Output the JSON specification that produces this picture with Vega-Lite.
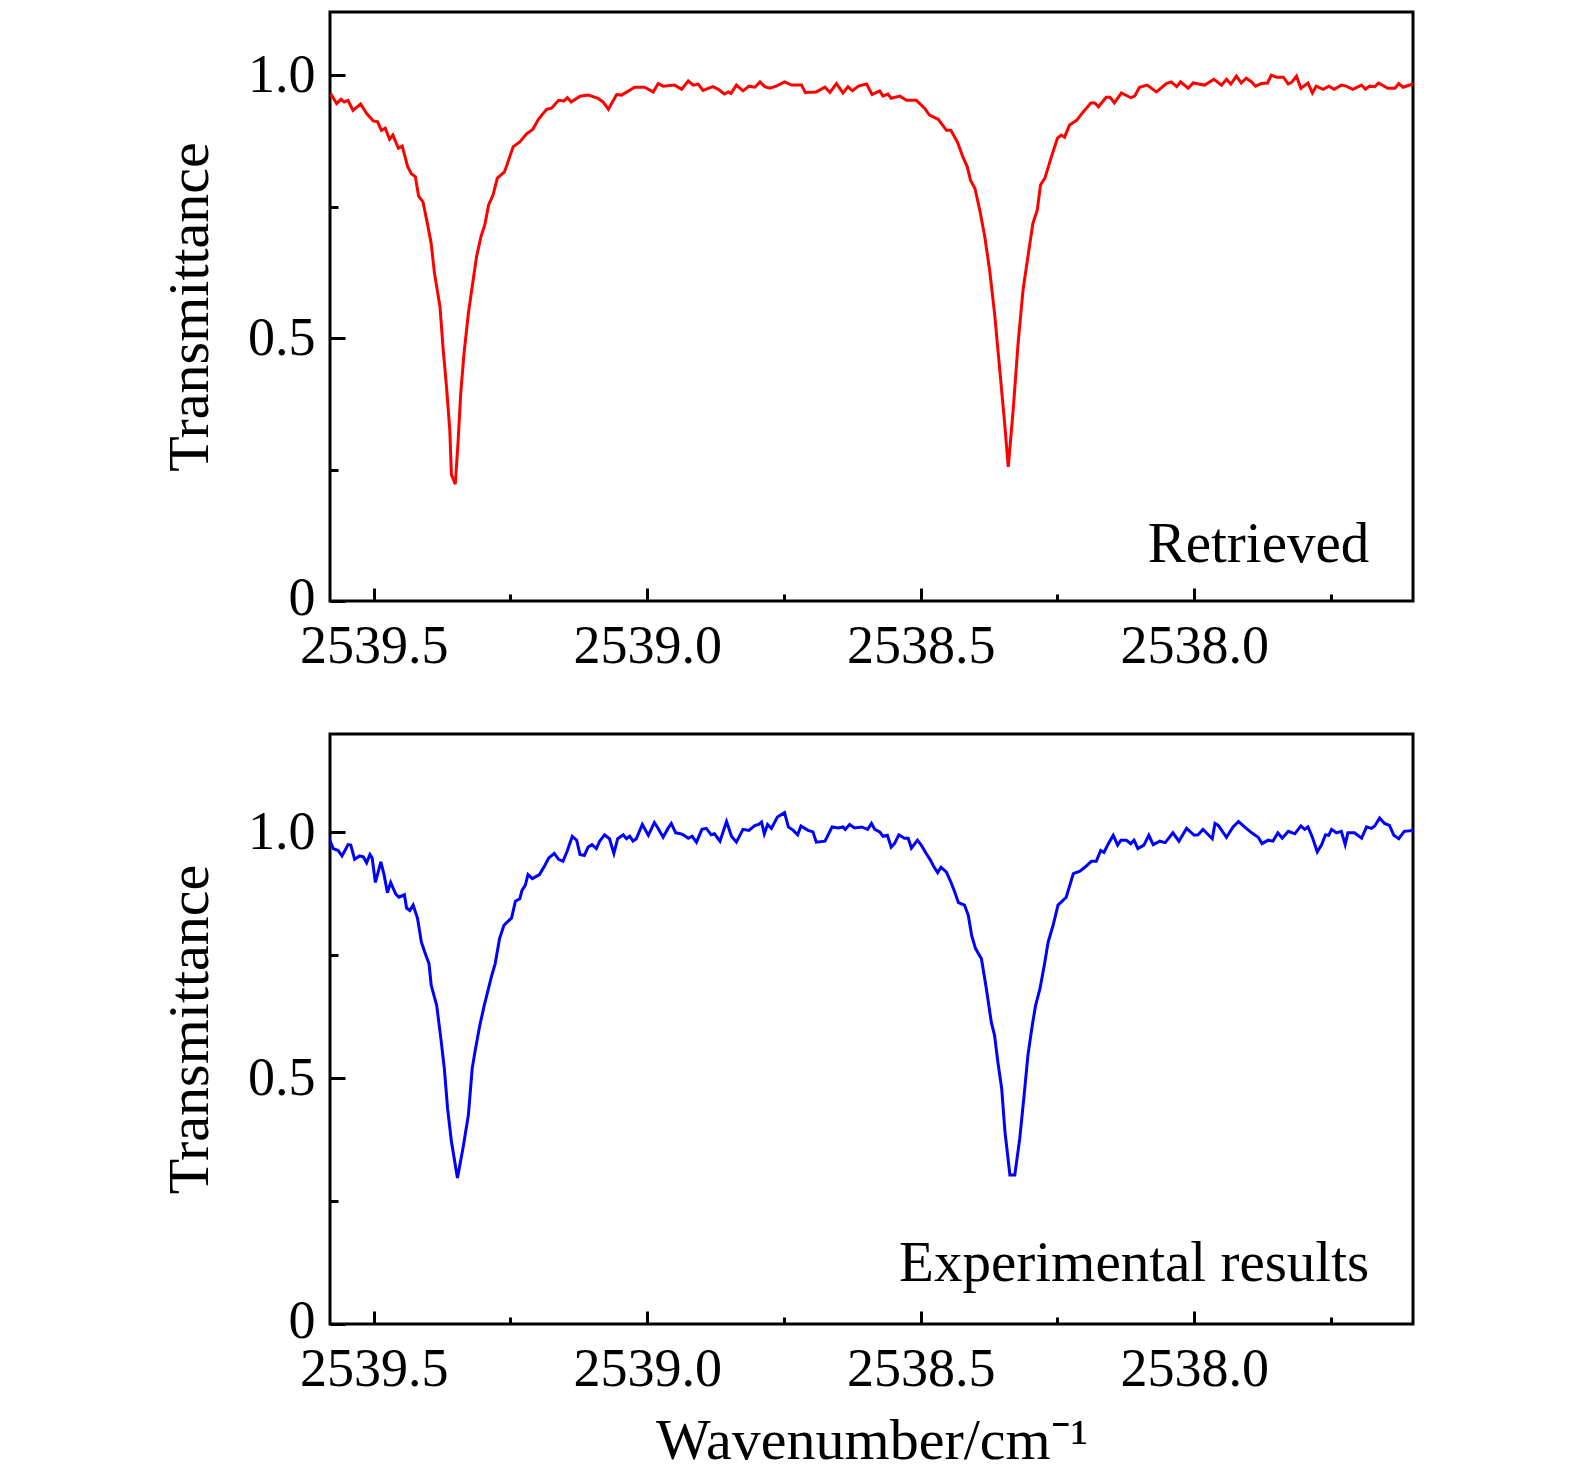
{
  "$schema": "https://vega.github.io/schema/vega-lite/v6.json",
  "padding": {"left": 160, "top": 10, "right": 5, "bottom": 5},
  "background": "white",
  "config": {
    "font": "Liberation Serif",
    "view": {"stroke": "black", "strokeWidth": 3},
    "axis": {
      "domain": false,
      "grid": false,
      "labelFont": "Liberation Serif",
      "labelFontSize": 54,
      "labelColor": "black",
      "titleFont": "Liberation Serif",
      "titleFontSize": 58,
      "titleFontWeight": "normal",
      "titleColor": "black",
      "tickColor": "black",
      "tickWidth": 3
    }
  },
  "datasets": {
    "retrieved": [
      {"wn": 2539.585, "T": 0.958}, {"wn": 2539.577, "T": 0.962}, {"wn": 2539.568, "T": 0.946}, {"wn": 2539.56, "T": 0.954},
      {"wn": 2539.554, "T": 0.949}, {"wn": 2539.547, "T": 0.952}, {"wn": 2539.538, "T": 0.933}, {"wn": 2539.524, "T": 0.945},
      {"wn": 2539.513, "T": 0.927}, {"wn": 2539.501, "T": 0.913}, {"wn": 2539.493, "T": 0.911}, {"wn": 2539.486, "T": 0.895},
      {"wn": 2539.479, "T": 0.899}, {"wn": 2539.471, "T": 0.878}, {"wn": 2539.465, "T": 0.886}, {"wn": 2539.455, "T": 0.861},
      {"wn": 2539.448, "T": 0.865}, {"wn": 2539.438, "T": 0.826}, {"wn": 2539.431, "T": 0.812}, {"wn": 2539.424, "T": 0.807},
      {"wn": 2539.418, "T": 0.77}, {"wn": 2539.41, "T": 0.759}, {"wn": 2539.402, "T": 0.718}, {"wn": 2539.395, "T": 0.68},
      {"wn": 2539.389, "T": 0.623}, {"wn": 2539.379, "T": 0.56}, {"wn": 2539.373, "T": 0.477}, {"wn": 2539.367, "T": 0.407},
      {"wn": 2539.361, "T": 0.325}, {"wn": 2539.358, "T": 0.24}, {"wn": 2539.354, "T": 0.23}, {"wn": 2539.351, "T": 0.222},
      {"wn": 2539.346, "T": 0.3}, {"wn": 2539.341, "T": 0.395}, {"wn": 2539.335, "T": 0.471}, {"wn": 2539.327, "T": 0.547},
      {"wn": 2539.32, "T": 0.598}, {"wn": 2539.312, "T": 0.655}, {"wn": 2539.304, "T": 0.693}, {"wn": 2539.297, "T": 0.715},
      {"wn": 2539.29, "T": 0.753}, {"wn": 2539.282, "T": 0.772}, {"wn": 2539.274, "T": 0.804}, {"wn": 2539.261, "T": 0.816},
      {"wn": 2539.245, "T": 0.864}, {"wn": 2539.233, "T": 0.873}, {"wn": 2539.221, "T": 0.888}, {"wn": 2539.209, "T": 0.897},
      {"wn": 2539.199, "T": 0.916}, {"wn": 2539.184, "T": 0.935}, {"wn": 2539.175, "T": 0.937}, {"wn": 2539.162, "T": 0.952},
      {"wn": 2539.152, "T": 0.951}, {"wn": 2539.146, "T": 0.957}, {"wn": 2539.139, "T": 0.949}, {"wn": 2539.123, "T": 0.96},
      {"wn": 2539.108, "T": 0.962}, {"wn": 2539.09, "T": 0.956}, {"wn": 2539.081, "T": 0.949}, {"wn": 2539.071, "T": 0.935},
      {"wn": 2539.056, "T": 0.963}, {"wn": 2539.047, "T": 0.962}, {"wn": 2539.023, "T": 0.977}, {"wn": 2539.005, "T": 0.977},
      {"wn": 2538.989, "T": 0.968}, {"wn": 2538.98, "T": 0.984}, {"wn": 2538.971, "T": 0.979}, {"wn": 2538.95, "T": 0.981},
      {"wn": 2538.937, "T": 0.973}, {"wn": 2538.925, "T": 0.989}, {"wn": 2538.916, "T": 0.981}, {"wn": 2538.907, "T": 0.983},
      {"wn": 2538.898, "T": 0.971}, {"wn": 2538.88, "T": 0.978}, {"wn": 2538.87, "T": 0.973}, {"wn": 2538.859, "T": 0.964},
      {"wn": 2538.852, "T": 0.968}, {"wn": 2538.847, "T": 0.965}, {"wn": 2538.837, "T": 0.981}, {"wn": 2538.825, "T": 0.97},
      {"wn": 2538.814, "T": 0.979}, {"wn": 2538.803, "T": 0.977}, {"wn": 2538.794, "T": 0.987}, {"wn": 2538.785, "T": 0.978},
      {"wn": 2538.776, "T": 0.975}, {"wn": 2538.764, "T": 0.979}, {"wn": 2538.749, "T": 0.987}, {"wn": 2538.736, "T": 0.981},
      {"wn": 2538.718, "T": 0.981}, {"wn": 2538.711, "T": 0.967}, {"wn": 2538.691, "T": 0.968}, {"wn": 2538.675, "T": 0.977},
      {"wn": 2538.666, "T": 0.967}, {"wn": 2538.654, "T": 0.984}, {"wn": 2538.642, "T": 0.966}, {"wn": 2538.633, "T": 0.978},
      {"wn": 2538.625, "T": 0.97}, {"wn": 2538.614, "T": 0.979}, {"wn": 2538.599, "T": 0.983}, {"wn": 2538.589, "T": 0.963},
      {"wn": 2538.575, "T": 0.97}, {"wn": 2538.569, "T": 0.96}, {"wn": 2538.56, "T": 0.964}, {"wn": 2538.554, "T": 0.956},
      {"wn": 2538.538, "T": 0.96}, {"wn": 2538.526, "T": 0.952}, {"wn": 2538.508, "T": 0.952}, {"wn": 2538.493, "T": 0.937},
      {"wn": 2538.484, "T": 0.924}, {"wn": 2538.468, "T": 0.916}, {"wn": 2538.453, "T": 0.895}, {"wn": 2538.445, "T": 0.895},
      {"wn": 2538.433, "T": 0.873}, {"wn": 2538.422, "T": 0.842}, {"wn": 2538.415, "T": 0.826}, {"wn": 2538.409, "T": 0.8},
      {"wn": 2538.401, "T": 0.785}, {"wn": 2538.392, "T": 0.743}, {"wn": 2538.383, "T": 0.693}, {"wn": 2538.374, "T": 0.629},
      {"wn": 2538.365, "T": 0.547}, {"wn": 2538.356, "T": 0.445}, {"wn": 2538.346, "T": 0.331}, {"wn": 2538.34, "T": 0.255},
      {"wn": 2538.331, "T": 0.363}, {"wn": 2538.322, "T": 0.49}, {"wn": 2538.313, "T": 0.591}, {"wn": 2538.304, "T": 0.655},
      {"wn": 2538.295, "T": 0.718}, {"wn": 2538.287, "T": 0.743}, {"wn": 2538.281, "T": 0.791}, {"wn": 2538.273, "T": 0.804},
      {"wn": 2538.261, "T": 0.845}, {"wn": 2538.25, "T": 0.88}, {"wn": 2538.243, "T": 0.886}, {"wn": 2538.237, "T": 0.882},
      {"wn": 2538.228, "T": 0.905}, {"wn": 2538.215, "T": 0.914}, {"wn": 2538.203, "T": 0.93}, {"wn": 2538.189, "T": 0.947},
      {"wn": 2538.182, "T": 0.947}, {"wn": 2538.175, "T": 0.94}, {"wn": 2538.161, "T": 0.958}, {"wn": 2538.154, "T": 0.958},
      {"wn": 2538.146, "T": 0.947}, {"wn": 2538.133, "T": 0.966}, {"wn": 2538.116, "T": 0.957}, {"wn": 2538.109, "T": 0.96},
      {"wn": 2538.1, "T": 0.977}, {"wn": 2538.086, "T": 0.981}, {"wn": 2538.069, "T": 0.968}, {"wn": 2538.051, "T": 0.984},
      {"wn": 2538.042, "T": 0.987}, {"wn": 2538.032, "T": 0.978}, {"wn": 2538.025, "T": 0.987}, {"wn": 2538.011, "T": 0.975},
      {"wn": 2538.002, "T": 0.985}, {"wn": 2537.981, "T": 0.981}, {"wn": 2537.964, "T": 0.992}, {"wn": 2537.95, "T": 0.981},
      {"wn": 2537.941, "T": 0.992}, {"wn": 2537.933, "T": 0.983}, {"wn": 2537.923, "T": 0.998}, {"wn": 2537.914, "T": 0.985},
      {"wn": 2537.905, "T": 0.994}, {"wn": 2537.895, "T": 0.987}, {"wn": 2537.888, "T": 0.979}, {"wn": 2537.877, "T": 0.984},
      {"wn": 2537.866, "T": 0.985}, {"wn": 2537.859, "T": 1.0}, {"wn": 2537.85, "T": 0.996}, {"wn": 2537.837, "T": 0.996},
      {"wn": 2537.828, "T": 0.983}, {"wn": 2537.821, "T": 0.987}, {"wn": 2537.813, "T": 0.998}, {"wn": 2537.805, "T": 0.975},
      {"wn": 2537.792, "T": 0.985}, {"wn": 2537.784, "T": 0.966}, {"wn": 2537.777, "T": 0.979}, {"wn": 2537.764, "T": 0.973},
      {"wn": 2537.754, "T": 0.979}, {"wn": 2537.744, "T": 0.973}, {"wn": 2537.731, "T": 0.981}, {"wn": 2537.722, "T": 0.979},
      {"wn": 2537.71, "T": 0.973}, {"wn": 2537.694, "T": 0.981}, {"wn": 2537.687, "T": 0.973}, {"wn": 2537.679, "T": 0.979},
      {"wn": 2537.67, "T": 0.978}, {"wn": 2537.663, "T": 0.985}, {"wn": 2537.646, "T": 0.975}, {"wn": 2537.633, "T": 0.975},
      {"wn": 2537.626, "T": 0.984}, {"wn": 2537.618, "T": 0.977}, {"wn": 2537.6, "T": 0.983}
    ],
    "experimental": [
      {"wn": 2539.585, "T": 0.995}, {"wn": 2539.574, "T": 0.967}, {"wn": 2539.565, "T": 0.963}, {"wn": 2539.558, "T": 0.952},
      {"wn": 2539.547, "T": 0.975}, {"wn": 2539.542, "T": 0.974}, {"wn": 2539.535, "T": 0.945}, {"wn": 2539.526, "T": 0.952},
      {"wn": 2539.519, "T": 0.95}, {"wn": 2539.513, "T": 0.938}, {"wn": 2539.507, "T": 0.955}, {"wn": 2539.503, "T": 0.948},
      {"wn": 2539.497, "T": 0.898}, {"wn": 2539.487, "T": 0.94}, {"wn": 2539.481, "T": 0.913}, {"wn": 2539.475, "T": 0.877},
      {"wn": 2539.469, "T": 0.898}, {"wn": 2539.46, "T": 0.875}, {"wn": 2539.454, "T": 0.868}, {"wn": 2539.444, "T": 0.873},
      {"wn": 2539.44, "T": 0.846}, {"wn": 2539.434, "T": 0.841}, {"wn": 2539.428, "T": 0.852}, {"wn": 2539.42, "T": 0.825},
      {"wn": 2539.413, "T": 0.777}, {"wn": 2539.407, "T": 0.757}, {"wn": 2539.399, "T": 0.733}, {"wn": 2539.395, "T": 0.689},
      {"wn": 2539.385, "T": 0.648}, {"wn": 2539.378, "T": 0.587}, {"wn": 2539.371, "T": 0.52}, {"wn": 2539.365, "T": 0.438},
      {"wn": 2539.358, "T": 0.371}, {"wn": 2539.347, "T": 0.297}, {"wn": 2539.337, "T": 0.357}, {"wn": 2539.327, "T": 0.425},
      {"wn": 2539.32, "T": 0.52}, {"wn": 2539.314, "T": 0.56}, {"wn": 2539.306, "T": 0.608}, {"wn": 2539.298, "T": 0.648},
      {"wn": 2539.291, "T": 0.679}, {"wn": 2539.285, "T": 0.706}, {"wn": 2539.278, "T": 0.733}, {"wn": 2539.27, "T": 0.784},
      {"wn": 2539.262, "T": 0.811}, {"wn": 2539.248, "T": 0.826}, {"wn": 2539.241, "T": 0.86}, {"wn": 2539.233, "T": 0.865},
      {"wn": 2539.229, "T": 0.882}, {"wn": 2539.223, "T": 0.892}, {"wn": 2539.218, "T": 0.914}, {"wn": 2539.21, "T": 0.906},
      {"wn": 2539.197, "T": 0.914}, {"wn": 2539.187, "T": 0.933}, {"wn": 2539.18, "T": 0.948}, {"wn": 2539.17, "T": 0.957},
      {"wn": 2539.162, "T": 0.945}, {"wn": 2539.154, "T": 0.941}, {"wn": 2539.146, "T": 0.963}, {"wn": 2539.137, "T": 0.992},
      {"wn": 2539.129, "T": 0.984}, {"wn": 2539.123, "T": 0.955}, {"wn": 2539.115, "T": 0.953}, {"wn": 2539.108, "T": 0.97},
      {"wn": 2539.101, "T": 0.975}, {"wn": 2539.093, "T": 0.967}, {"wn": 2539.087, "T": 0.982}, {"wn": 2539.078, "T": 0.995},
      {"wn": 2539.069, "T": 0.987}, {"wn": 2539.061, "T": 0.957}, {"wn": 2539.054, "T": 0.987}, {"wn": 2539.044, "T": 0.995},
      {"wn": 2539.038, "T": 0.987}, {"wn": 2539.032, "T": 0.992}, {"wn": 2539.026, "T": 0.982}, {"wn": 2539.02, "T": 0.987},
      {"wn": 2539.009, "T": 1.016}, {"wn": 2538.998, "T": 0.994}, {"wn": 2538.987, "T": 1.02}, {"wn": 2538.98, "T": 1.008},
      {"wn": 2538.971, "T": 0.99}, {"wn": 2538.962, "T": 1.008}, {"wn": 2538.956, "T": 1.018}, {"wn": 2538.948, "T": 0.999},
      {"wn": 2538.939, "T": 0.997}, {"wn": 2538.934, "T": 0.995}, {"wn": 2538.925, "T": 0.988}, {"wn": 2538.918, "T": 0.992},
      {"wn": 2538.91, "T": 0.98}, {"wn": 2538.9, "T": 1.006}, {"wn": 2538.892, "T": 1.008}, {"wn": 2538.883, "T": 0.995},
      {"wn": 2538.877, "T": 0.997}, {"wn": 2538.867, "T": 0.982}, {"wn": 2538.855, "T": 1.022}, {"wn": 2538.846, "T": 0.992},
      {"wn": 2538.837, "T": 0.98}, {"wn": 2538.825, "T": 1.006}, {"wn": 2538.814, "T": 1.004}, {"wn": 2538.803, "T": 1.014},
      {"wn": 2538.796, "T": 1.016}, {"wn": 2538.791, "T": 1.021}, {"wn": 2538.786, "T": 0.997}, {"wn": 2538.78, "T": 1.016},
      {"wn": 2538.773, "T": 1.008}, {"wn": 2538.762, "T": 1.031}, {"wn": 2538.749, "T": 1.04}, {"wn": 2538.742, "T": 1.011},
      {"wn": 2538.733, "T": 1.004}, {"wn": 2538.725, "T": 0.995}, {"wn": 2538.719, "T": 1.013}, {"wn": 2538.706, "T": 1.004},
      {"wn": 2538.697, "T": 1.001}, {"wn": 2538.691, "T": 0.98}, {"wn": 2538.675, "T": 0.982}, {"wn": 2538.662, "T": 1.011},
      {"wn": 2538.651, "T": 1.009}, {"wn": 2538.642, "T": 1.011}, {"wn": 2538.638, "T": 1.006}, {"wn": 2538.63, "T": 1.016},
      {"wn": 2538.621, "T": 1.009}, {"wn": 2538.608, "T": 1.011}, {"wn": 2538.597, "T": 1.006}, {"wn": 2538.59, "T": 1.018},
      {"wn": 2538.584, "T": 1.006}, {"wn": 2538.575, "T": 1.001}, {"wn": 2538.569, "T": 0.992}, {"wn": 2538.561, "T": 0.994},
      {"wn": 2538.554, "T": 0.97}, {"wn": 2538.548, "T": 0.977}, {"wn": 2538.54, "T": 0.995}, {"wn": 2538.53, "T": 0.988},
      {"wn": 2538.523, "T": 0.988}, {"wn": 2538.517, "T": 0.968}, {"wn": 2538.506, "T": 0.984}, {"wn": 2538.499, "T": 0.974},
      {"wn": 2538.49, "T": 0.957}, {"wn": 2538.482, "T": 0.943}, {"wn": 2538.477, "T": 0.932}, {"wn": 2538.469, "T": 0.918},
      {"wn": 2538.463, "T": 0.929}, {"wn": 2538.453, "T": 0.919}, {"wn": 2538.445, "T": 0.899}, {"wn": 2538.438, "T": 0.879},
      {"wn": 2538.431, "T": 0.857}, {"wn": 2538.42, "T": 0.852}, {"wn": 2538.413, "T": 0.831}, {"wn": 2538.407, "T": 0.791},
      {"wn": 2538.4, "T": 0.764}, {"wn": 2538.389, "T": 0.743}, {"wn": 2538.38, "T": 0.682}, {"wn": 2538.371, "T": 0.614},
      {"wn": 2538.365, "T": 0.587}, {"wn": 2538.359, "T": 0.533}, {"wn": 2538.352, "T": 0.479}, {"wn": 2538.346, "T": 0.391},
      {"wn": 2538.337, "T": 0.303}, {"wn": 2538.328, "T": 0.303}, {"wn": 2538.319, "T": 0.377}, {"wn": 2538.311, "T": 0.465},
      {"wn": 2538.304, "T": 0.547}, {"wn": 2538.296, "T": 0.608}, {"wn": 2538.29, "T": 0.648}, {"wn": 2538.282, "T": 0.682},
      {"wn": 2538.274, "T": 0.73}, {"wn": 2538.267, "T": 0.777}, {"wn": 2538.258, "T": 0.811}, {"wn": 2538.249, "T": 0.852},
      {"wn": 2538.234, "T": 0.868}, {"wn": 2538.221, "T": 0.916}, {"wn": 2538.209, "T": 0.921}, {"wn": 2538.2, "T": 0.929},
      {"wn": 2538.188, "T": 0.941}, {"wn": 2538.179, "T": 0.941}, {"wn": 2538.171, "T": 0.963}, {"wn": 2538.165, "T": 0.959},
      {"wn": 2538.157, "T": 0.977}, {"wn": 2538.148, "T": 0.994}, {"wn": 2538.14, "T": 0.974}, {"wn": 2538.134, "T": 0.984},
      {"wn": 2538.124, "T": 0.984}, {"wn": 2538.116, "T": 0.977}, {"wn": 2538.11, "T": 0.984}, {"wn": 2538.103, "T": 0.967},
      {"wn": 2538.092, "T": 0.974}, {"wn": 2538.083, "T": 0.994}, {"wn": 2538.075, "T": 0.975}, {"wn": 2538.063, "T": 0.982},
      {"wn": 2538.053, "T": 0.979}, {"wn": 2538.039, "T": 0.999}, {"wn": 2538.028, "T": 0.982}, {"wn": 2538.014, "T": 1.008},
      {"wn": 2538.0, "T": 0.994}, {"wn": 2537.993, "T": 0.995}, {"wn": 2537.984, "T": 1.006}, {"wn": 2537.967, "T": 0.987},
      {"wn": 2537.962, "T": 1.018}, {"wn": 2537.956, "T": 1.014}, {"wn": 2537.941, "T": 0.99}, {"wn": 2537.929, "T": 1.011},
      {"wn": 2537.919, "T": 1.022}, {"wn": 2537.908, "T": 1.011}, {"wn": 2537.895, "T": 0.999}, {"wn": 2537.883, "T": 0.99},
      {"wn": 2537.876, "T": 0.977}, {"wn": 2537.865, "T": 0.984}, {"wn": 2537.856, "T": 0.982}, {"wn": 2537.847, "T": 0.999},
      {"wn": 2537.839, "T": 0.988}, {"wn": 2537.828, "T": 1.002}, {"wn": 2537.816, "T": 0.997}, {"wn": 2537.805, "T": 1.013},
      {"wn": 2537.798, "T": 1.006}, {"wn": 2537.792, "T": 1.011}, {"wn": 2537.784, "T": 0.99}, {"wn": 2537.775, "T": 0.96},
      {"wn": 2537.767, "T": 0.975}, {"wn": 2537.76, "T": 0.995}, {"wn": 2537.754, "T": 0.994}, {"wn": 2537.749, "T": 1.006},
      {"wn": 2537.74, "T": 0.999}, {"wn": 2537.731, "T": 1.002}, {"wn": 2537.724, "T": 0.975}, {"wn": 2537.719, "T": 0.999},
      {"wn": 2537.707, "T": 0.999}, {"wn": 2537.694, "T": 0.988}, {"wn": 2537.685, "T": 1.011}, {"wn": 2537.676, "T": 1.008},
      {"wn": 2537.67, "T": 1.013}, {"wn": 2537.661, "T": 1.029}, {"wn": 2537.652, "T": 1.018}, {"wn": 2537.643, "T": 1.014},
      {"wn": 2537.635, "T": 0.994}, {"wn": 2537.626, "T": 0.987}, {"wn": 2537.616, "T": 1.002}, {"wn": 2537.6, "T": 1.004}
    ],
    "label_top": [{"wn": 2537.68, "T": 0.075, "label": "Retrieved"}],
    "label_bottom": [{"wn": 2537.68, "T": 0.087, "label": "Experimental results"}]
  },
  "spacing": 57,
  "vconcat": [
    {
      "width": 1083,
      "height": 589,
      "encoding": {
        "x": {
          "field": "wn", "type": "quantitative",
          "scale": {"domain": [2539.58, 2537.6], "nice": false, "zero": false},
          "axis": {
            "title": null,
            "values": [2539.5, 2539.25, 2539.0, 2538.75, 2538.5, 2538.25, 2538.0, 2537.75],
            "labelExpr": "(datum.value * 2) % 1 == 0 ? format(datum.value, '.1f') : ''",
            "tickSize": {"condition": {"test": "(datum.value * 2) % 1 != 0", "value": -7}, "value": -13},
            "labelPadding": 31
          }
        },
        "y": {
          "field": "T", "type": "quantitative",
          "scale": {"domain": [0, 1.12], "nice": false},
          "axis": {
            "title": "Transmittance",
            "values": [0, 0.25, 0.5, 0.75, 1.0],
            "labelExpr": "datum.value == 0 ? '0' : ((datum.value * 2) % 1 == 0 ? format(datum.value, '.1f') : '')",
            "tickSize": {"condition": {"test": "(datum.value * 2) % 1 != 0", "value": -8}, "value": -15},
            "labelOffset": {"condition": {"test": "datum.value == 0", "value": -3}, "value": 0},
            "labelPadding": 30,
            "titlePadding": 28
          }
        }
      },
      "layer": [
        {
          "data": {"name": "retrieved"},
          "mark": {"type": "line", "color": "#ff0000", "strokeWidth": 3, "clip": true}
        },
        {
          "data": {"name": "label_top"},
          "mark": {"type": "text", "align": "right", "baseline": "alphabetic", "fontSize": 57, "font": "Liberation Serif", "color": "black"},
          "encoding": {"text": {"field": "label"}}
        }
      ]
    },
    {
      "width": 1083,
      "height": 590,
      "encoding": {
        "x": {
          "field": "wn", "type": "quantitative",
          "scale": {"domain": [2539.58, 2537.6], "nice": false, "zero": false},
          "axis": {
            "title": "Wavenumber/cm⁻¹",
            "values": [2539.5, 2539.25, 2539.0, 2538.75, 2538.5, 2538.25, 2538.0, 2537.75],
            "labelExpr": "(datum.value * 2) % 1 == 0 ? format(datum.value, '.1f') : ''",
            "tickSize": {"condition": {"test": "(datum.value * 2) % 1 != 0", "value": -7}, "value": -13},
            "labelPadding": 31,
            "titlePadding": 16
          }
        },
        "y": {
          "field": "T", "type": "quantitative",
          "scale": {"domain": [0, 1.2], "nice": false},
          "axis": {
            "title": "Transmittance",
            "values": [0, 0.25, 0.5, 0.75, 1.0],
            "labelExpr": "datum.value == 0 ? '0' : ((datum.value * 2) % 1 == 0 ? format(datum.value, '.1f') : '')",
            "tickSize": {"condition": {"test": "(datum.value * 2) % 1 != 0", "value": -8}, "value": -15},
            "labelOffset": {"condition": {"test": "datum.value == 0", "value": -3}, "value": 0},
            "labelPadding": 30,
            "titlePadding": 28
          }
        }
      },
      "layer": [
        {
          "data": {"name": "experimental"},
          "mark": {"type": "line", "color": "#0000ff", "strokeWidth": 3, "clip": true}
        },
        {
          "data": {"name": "label_bottom"},
          "mark": {"type": "text", "align": "right", "baseline": "alphabetic", "fontSize": 57, "font": "Liberation Serif", "color": "black"},
          "encoding": {"text": {"field": "label"}}
        }
      ]
    }
  ]
}
